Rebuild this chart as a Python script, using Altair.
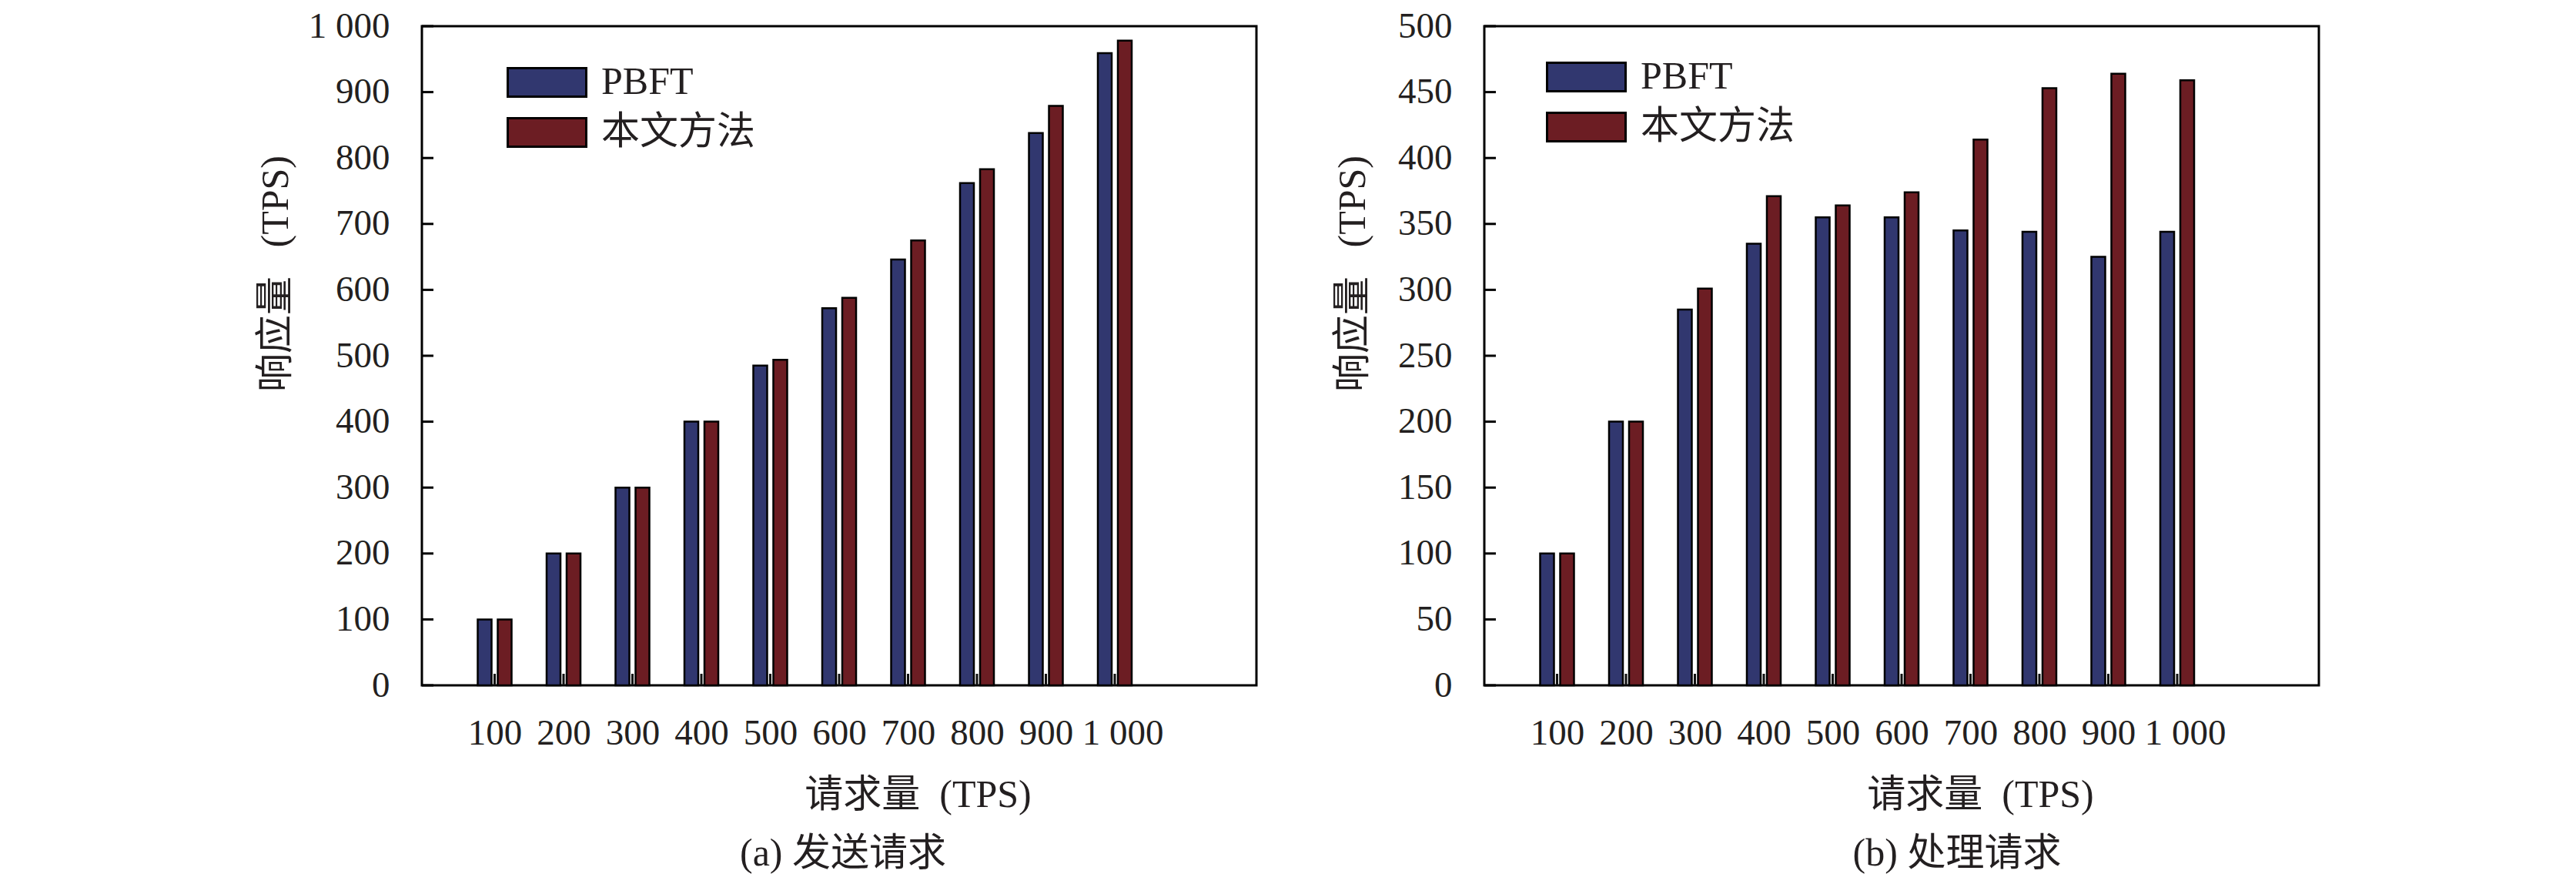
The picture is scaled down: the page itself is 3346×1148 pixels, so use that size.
import json
import altair as alt
import pandas as pd

# ---------------- data ----------------
requests = ["100", "200", "300", "400", "500", "600", "700", "800", "900", "1 000"]
series = ["PBFT", "本文方法"]
send_pbft = [100, 200, 300, 400, 485, 572, 646, 762, 838, 959]
send_ours = [100, 200, 300, 400, 494, 588, 675, 783, 879, 978]
proc_pbft = [100, 200, 285, 335, 355, 355, 345, 344, 325, 344]
proc_ours = [100, 200, 301, 371, 364, 374, 414, 453, 464, 459]
send_yticks = list(range(0, 1001, 100))
proc_yticks = list(range(0, 501, 50))
colors = ["#31376f", "#6c1d23"]

FONT = "Liberation Serif, Noto Sans CJK SC"
TXT = "#231f20"
W, H = 1084, 856


def panel(pbft, ours, yticks, ymax, caption, ytitle_x, caption_dx, legend_x, legend_y):
    n = len(requests)
    pos = list(range(1, n + 1))
    df = pd.DataFrame({
        "pos": pos * 2,
        "series": [series[0]] * n + [series[1]] * n,
        "value": pbft + ours,
    })
    xscale = alt.Scale(domain=[0, n + 2], nice=False, zero=False)
    yscale = alt.Scale(domain=[0, ymax], nice=False)

    x_axis = alt.Axis(
        values=pos,
        labelExpr=json.dumps(requests) + "[datum.value - 1]",
        labelOffset={"condition": {"test": f"datum.value == {n}", "value": 10}, "value": 0},
        ticks=False, domain=False, grid=False,
        labelPadding=39, labelFontSize=47, labelFont=FONT, labelColor=TXT,
        title="请求量\u2002(TPS)", titleFont=FONT, titleFontSize=50,
        titleFontWeight="normal", titleColor=TXT,
        titleX=644, titleY=157, titleBaseline="alphabetic", titleAlign="center",
    )
    y_axis = alt.Axis(
        values=yticks,
        labelExpr="replace(format(datum.value, ',d'), ',', ' ')",
        ticks=False, domain=False, grid=False,
        labelPadding=42, labelFontSize=47, labelFont=FONT, labelColor=TXT,
        title="响应量\u2002 (TPS)", titleFont=FONT, titleFontSize=50,
        titleFontWeight="normal", titleColor=TXT,
        titleX=ytitle_x, titleY=321, titleBaseline="middle", titleAlign="center",
    )
    legend = alt.Legend(
        title=None, orient="none", legendX=legend_x, legendY=legend_y,
        symbolType="M-1,-0.363H1V0.363H-1Z", symbolSize=10404,
        symbolStrokeColor="black", symbolStrokeWidth=3, symbolOpacity=1,
        labelFont=FONT, labelFontSize=50, labelColor=TXT, labelOffset=18,
        labelLimit=0, clipHeight=56, rowPadding=9, padding=0,
    )
    color = alt.Color("series:N", scale=alt.Scale(domain=series, range=colors), legend=legend)

    base = alt.Chart(df)
    bars_a = base.transform_filter(alt.datum.series == series[0]).mark_bar(
        width=18, xOffset=-13, stroke="black", strokeWidth=2.5
    ).encode(
        x=alt.X("pos:Q", scale=xscale, axis=x_axis),
        y=alt.Y("value:Q", scale=yscale, axis=y_axis),
        color=color,
    )
    bars_b = base.transform_filter(alt.datum.series == series[1]).mark_bar(
        width=18, xOffset=13, stroke="black", strokeWidth=2.5
    ).encode(
        x=alt.X("pos:Q", scale=xscale, axis=x_axis),
        y=alt.Y("value:Q", scale=yscale, axis=y_axis),
        color=color,
    )
    yt = alt.Chart(pd.DataFrame({"value": yticks})).mark_rule(color="black", strokeWidth=3).encode(
        y=alt.Y("value:Q", scale=yscale, axis=y_axis),
        x=alt.value(0), x2=alt.value(15),
    )
    xt = alt.Chart(pd.DataFrame({"pos": pos})).mark_rule(color="#111111", strokeWidth=3).encode(
        x=alt.X("pos:Q", scale=xscale, axis=x_axis),
        y=alt.value(H), y2=alt.value(H - 15),
    )
    return alt.layer(bars_a, bars_b, xt, yt).properties(
        width=W, height=H,
        title=alt.TitleParams(
            caption, orient="bottom", anchor="middle", font=FONT, fontSize=50,
            fontWeight="normal", color=TXT, dx=caption_dx, offset=27,
        ),
    )


left = panel(send_pbft, send_ours, send_yticks, 1000, "(a) 发送请求", -190, 5, 110, 45)
right = panel(proc_pbft, proc_ours, proc_yticks, 500, "(b) 处理请求", -171, 72, 80, 38)

chart = alt.hconcat(left, right, spacing=96).resolve_scale(
    color="independent"
).resolve_legend(color="independent").properties(
    padding={"left": 323, "top": 0, "right": 5, "bottom": 0},
    background="white",
).configure_view(stroke="black", strokeWidth=3)

chart.save("out.html", embed_options={"renderer": "svg", "actions": False})
